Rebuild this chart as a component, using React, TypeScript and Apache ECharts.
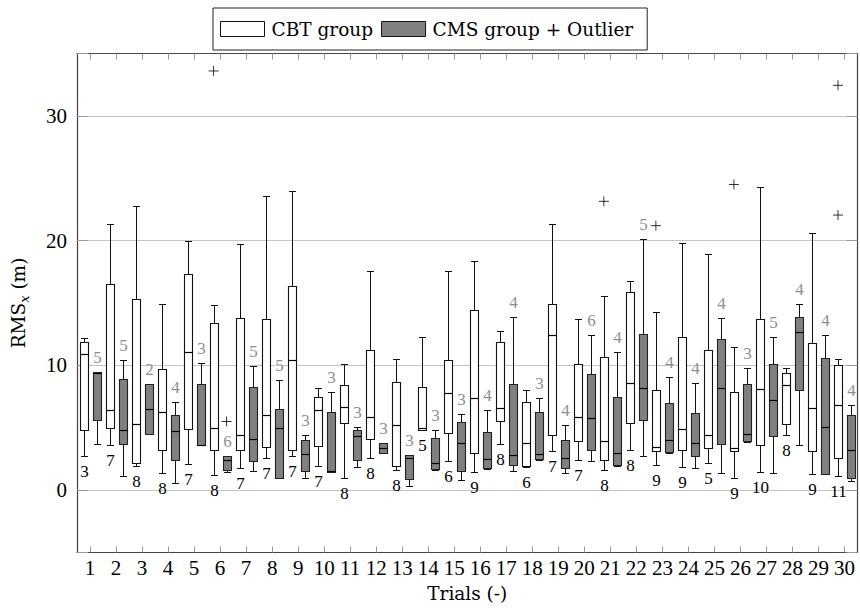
import React, { useEffect, useRef } from "react";
import * as echarts from "echarts";

const trials = ["1","2","3","4","5","6","7","8","9","10","11","12","13","14","15","16","17","18","19","20","21","22","23","24","25","26","27","28","29","30"];

// [lower whisker, Q1, median, Q3, upper whisker]
const cbtStats = [
  [2.75, 4.8, 10.9, 11.9, 12.2],
  [3.6, 5.0, 6.45, 16.5, 21.3],
  [1.9, 2.2, 5.3, 15.3, 22.8],
  [1.4, 3.2, 6.3, 9.7, 14.9],
  [2.1, 4.9, 11.1, 17.3, 20.0],
  [1.25, 3.2, 5.0, 13.4, 14.8],
  [1.8, 3.2, 4.45, 13.8, 19.7],
  [2.55, 3.45, 6.0, 13.7, 23.6],
  [2.75, 3.2, 10.45, 16.35, 24.0],
  [1.95, 3.5, 6.4, 7.5, 8.2],
  [0.95, 5.4, 6.65, 8.45, 10.1],
  [2.6, 4.1, 5.9, 11.2, 17.6],
  [1.6, 1.95, 5.2, 8.65, 10.5],
  [4.85, 4.85, 4.95, 8.3, 12.25],
  [2.3, 4.6, 7.75, 10.4, 17.6],
  [1.45, 2.95, 7.4, 14.4, 18.4],
  [3.7, 5.55, 6.6, 11.85, 12.75],
  [1.85, 1.9, 3.8, 7.05, 8.0],
  [3.1, 4.4, 12.4, 14.95, 21.3],
  [2.45, 3.9, 5.85, 10.15, 13.75],
  [1.6, 2.4, 3.95, 10.7, 15.55],
  [3.2, 5.4, 8.6, 15.9, 16.8],
  [2.05, 3.15, 3.45, 8.0, 14.3],
  [1.85, 3.2, 4.9, 12.3, 19.8],
  [2.15, 3.35, 4.4, 11.2, 18.9],
  [1.0, 3.1, 3.35, 7.85, 11.5],
  [1.45, 3.6, 8.1, 13.75, 24.3],
  [4.45, 5.3, 8.4, 9.4, 9.8],
  [1.3, 3.15, 6.6, 11.8, 20.6],
  [1.1, 2.55, 6.8, 10.0, 10.5],
];

const cmsStats = [
  [3.7, 5.6, 9.4, 9.5, 9.5],
  [1.1, 3.7, 4.8, 8.9, 10.4],
  [4.5, 4.5, 6.5, 8.5, 8.5],
  [0.6, 2.45, 4.7, 6.05, 7.1],
  [3.6, 3.6, 3.65, 8.5, 10.2],
  [1.45, 1.6, 2.4, 2.7, 2.75],
  [1.5, 2.3, 4.1, 8.3, 9.95],
  [1.0, 1.0, 5.0, 6.5, 8.8],
  [0.95, 1.5, 2.9, 4.0, 4.45],
  [1.45, 1.45, 1.5, 6.25, 7.9],
  [1.85, 2.45, 4.3, 4.85, 5.1],
  [3.0, 3.0, 3.4, 3.8, 3.8],
  [0.35, 0.9, 2.6, 2.85, 2.85],
  [1.6, 1.7, 2.2, 4.15, 4.8],
  [0.8, 1.55, 3.75, 5.5, 6.1],
  [1.7, 1.8, 2.5, 4.65, 6.4],
  [1.5, 2.0, 2.85, 8.5, 13.9],
  [2.45, 2.5, 2.9, 6.25, 7.4],
  [1.35, 1.8, 2.55, 4.0, 5.2],
  [2.3, 3.2, 5.8, 9.3, 12.4],
  [1.95, 2.0, 2.95, 7.45, 11.05],
  [2.75, 5.6, 8.2, 12.55, 20.1],
  [3.0, 3.05, 4.0, 7.0, 9.1],
  [1.8, 2.75, 3.8, 6.2, 8.55],
  [1.4, 3.7, 8.15, 12.1, 13.8],
  [3.85, 3.9, 4.5, 8.5, 9.8],
  [1.35, 4.35, 7.2, 10.1, 12.3],
  [3.65, 8.0, 12.65, 13.9, 14.95],
  [1.3, 1.3, 5.05, 10.6, 12.4],
  [0.75, 1.0, 3.25, 6.0, 6.8],
];

const cbtCounts = [3, 7, 8, 8, 7, 8, 7, 7, 7, 7, 8, 8, 8, 5, 6, 9, 8, 6, 7, 7, 8, 8, 9, 9, 5, 9, 10, 8, 9, 11];
const cmsCounts = [5, 5, 2, 4, 3, 6, 5, 5, 3, 3, 3, 3, 3, 3, 3, 4, 4, 3, 4, 6, 4, 5, 4, 4, 4, 3, 5, 4, 4, 4];

// [trial index (0-based), value]
const cbtOutliers = [[5, 33.6], [20, 23.15], [22, 21.2], [25, 24.5], [29, 32.45], [29, 22.05]];
const cmsOutliers = [[5, 5.5]];

const yLabelValues = [0, 10, 20, 30];

const SERIF_NUM = "Liberation Serif";
const SERIF_TXT = "DejaVu Serif";

function makeRender(side: number, fill: string, stroke: string, labelColor: string, labelBelow: boolean) {
  return (params: any, api: any) => {
    const idx = api.value(0);
    const low = api.value(1), q1 = api.value(2), med = api.value(3), q3 = api.value(4), high = api.value(5);
    const count = api.value(6);
    const bw = api.size([1, 0])[0];
    const cx = api.coord([idx, 0])[0] + side * bw * 0.25;
    const boxW = Math.round(bw * 0.3);
    const left = Math.round(cx - boxW / 2) + 0.5;
    const wx = left + boxW / 2;
    const capHalf = 3.5;
    const py = (v: number) => Math.round(api.coord([idx, v])[1]) + 0.5;
    const yLow = py(low), yQ1 = py(q1), yMed = py(med), yQ3 = py(q3), yHigh = py(high);
    const ls = { stroke: "#111", lineWidth: 1 };
    const children: any[] = [
      { type: "line", shape: { x1: wx, y1: yHigh, x2: wx, y2: yQ3 }, style: ls },
      { type: "line", shape: { x1: wx, y1: yQ1, x2: wx, y2: yLow }, style: ls },
      { type: "line", shape: { x1: wx - capHalf, y1: yHigh, x2: wx + capHalf, y2: yHigh }, style: ls },
      { type: "line", shape: { x1: wx - capHalf, y1: yLow, x2: wx + capHalf, y2: yLow }, style: ls },
      { type: "rect", shape: { x: left, y: yQ3, width: boxW, height: yQ1 - yQ3 }, style: { fill, stroke, lineWidth: 1.1 } },
      { type: "line", shape: { x1: left, y1: yMed, x2: left + boxW, y2: yMed }, style: { stroke: "#000", lineWidth: 1.2 } },
      {
        type: "text",
        style: {
          text: String(count),
          x: wx,
          y: labelBelow ? yLow + 15 : yHigh - 15,
          align: "center",
          verticalAlign: "middle",
          fontFamily: SERIF_NUM,
          fontSize: 17,
          fill: labelColor,
        },
      },
    ];
    return { type: "group", children };
  };
}

export default function App() {
  const ref = useRef<HTMLDivElement>(null);
  useEffect(() => {
    if (!ref.current) return;
    const chart = echarts.init(ref.current, undefined, { renderer: "svg" });
    const cbtData = cbtStats.map((s, i) => [i, ...s, cbtCounts[i]]);
    const cmsData = cmsStats.map((s, i) => [i, ...s, cmsCounts[i]]);
    const plusSymbol = "path://M5 0V10M0 5H10";
    const axisLine = { show: true, onZero: false, lineStyle: { color: "#444", width: 1.2 } };
    const option: any = {
      animation: false,
      backgroundColor: "#fff",
      grid: { left: 77, right: 2.5, top: 53.5, bottom: 63.5, show: false },
      legend: {
        left: 213,
        top: 8,
        orient: "horizontal",
        padding: [11, 14, 11, 7],
        itemWidth: 44,
        itemHeight: 15,
        itemGap: 8,
        borderColor: "#222",
        borderWidth: 1,
        backgroundColor: "#fff",
        selectedMode: false,
        textStyle: { fontFamily: SERIF_TXT, fontSize: 18.5, color: "#000", lineHeight: 20, padding: [0, 0, 0, 2] },
        data: [
          { name: "CBT group", icon: "rect", itemStyle: { color: "#fff", borderColor: "#111", borderWidth: 1 } },
          { name: "CMS group + Outlier", icon: "rect", itemStyle: { color: "#808080", borderColor: "#111", borderWidth: 1 } },
        ],
      },
      xAxis: [
        {
          type: "category",
          data: trials,
          position: "bottom",
          boundaryGap: true,
          axisLine,
          axisTick: { show: true, alignWithLabel: true, inside: true, length: 6, lineStyle: { color: "#999" } },
          axisLabel: { interval: 0, margin: 5, fontFamily: SERIF_NUM, fontSize: 21, color: "#000" },
          splitLine: { show: false },
          name: "Trials (-)",
          nameLocation: "middle",
          nameGap: 31,
          nameTextStyle: { fontFamily: SERIF_TXT, fontSize: 18.5, color: "#000" },
        },
        {
          type: "category",
          data: trials,
          position: "top",
          boundaryGap: true,
          axisLine,
          axisTick: { show: true, alignWithLabel: true, inside: true, length: 6, lineStyle: { color: "#999" } },
          axisLabel: { show: false },
          splitLine: { show: false },
        },
      ],
      yAxis: [
        {
          type: "value",
          min: -5,
          max: 35,
          splitNumber: 4,
          position: "left",
          axisLine,
          axisTick: { show: true, inside: true, length: 11, lineStyle: { color: "#999" } },
          axisLabel: {
            margin: 10,
            fontFamily: SERIF_NUM,
            fontSize: 21,
            color: "#000",
            formatter: (v: number) => (yLabelValues.indexOf(v) >= 0 ? String(v) : ""),
          },
          splitLine: { show: true, lineStyle: { color: "#c4c4c4", width: 1 } },
          name: "{a|RMS}{b|x}{a| (m)}",
          nameLocation: "middle",
          nameGap: 46,
          nameTextStyle: {
            rich: {
              a: { fontFamily: SERIF_TXT, fontSize: 18.5, color: "#000", lineHeight: 26 },
              b: { fontFamily: SERIF_TXT, fontSize: 13, fontStyle: "italic", color: "#000", verticalAlign: "bottom" },
            },
          },
        },
        {
          type: "value",
          min: -5,
          max: 35,
          splitNumber: 4,
          position: "right",
          axisLine,
          axisTick: { show: true, inside: true, length: 11, lineStyle: { color: "#999" } },
          axisLabel: { show: false },
          splitLine: { show: false },
        },
      ],
      series: [
        {
          type: "custom",
          name: "CBT group",
          xAxisIndex: 0,
          yAxisIndex: 0,
          data: cbtData,
          encode: { x: 0, y: [1, 2, 3, 4, 5] },
          itemStyle: { color: "#fff", borderColor: "#111" },
          renderItem: makeRender(-1, "#fff", "#111", "#000", true),
          z: 3,
        },
        {
          type: "custom",
          name: "CMS group + Outlier",
          xAxisIndex: 0,
          yAxisIndex: 0,
          data: cmsData,
          encode: { x: 0, y: [1, 2, 3, 4, 5] },
          itemStyle: { color: "#808080", borderColor: "#111" },
          renderItem: makeRender(1, "#808080", "#222", "#8f8f8f", false),
          z: 3,
        },
        {
          type: "scatter",
          name: "CBT outliers",
          xAxisIndex: 0,
          yAxisIndex: 0,
          data: cbtOutliers,
          symbol: plusSymbol,
          symbolSize: 10,
          symbolOffset: [-6.5, 0],
          itemStyle: { color: "none", borderColor: "#000", borderWidth: 1 },
          z: 4,
        },
        {
          type: "scatter",
          name: "CMS outliers",
          xAxisIndex: 0,
          yAxisIndex: 0,
          data: cmsOutliers,
          symbol: plusSymbol,
          symbolSize: 10,
          symbolOffset: [6.5, 0],
          itemStyle: { color: "none", borderColor: "#000", borderWidth: 1 },
          z: 4,
        },
      ],
    };
    chart.setOption(option);
    return () => chart.dispose();
  }, []);
  return <div ref={ref} style={{ position: "fixed", left: 0, top: 0, width: 860, height: 616 }} />;
}
